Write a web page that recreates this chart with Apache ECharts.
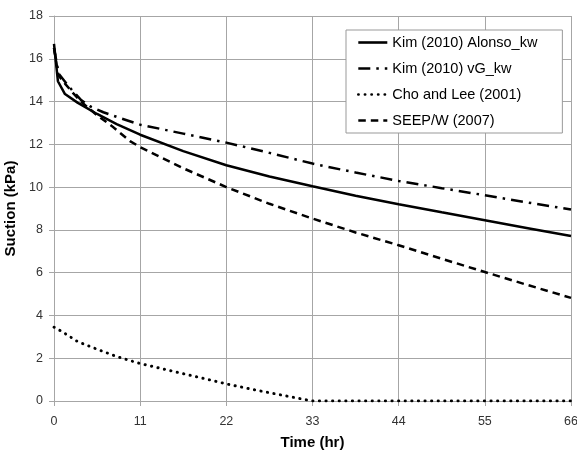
<!DOCTYPE html>
<html><head><meta charset="utf-8">
<script src="https://cdn.jsdelivr.net/npm/echarts@6/dist/echarts.min.js"></script>
<style>html,body{margin:0;padding:0;background:#fff}#c{width:577px;height:457px}</style>
</head><body><div id="c"></div>
<script>
var seriesNames = ['Kim (2010) Alonso_kw', 'Kim (2010) vG_kw', 'Cho and Lee (2001)', 'SEEP/W (2007)'];
var xTicks = [0, 11, 22, 33, 44, 55, 66];
var yTicks = [0, 2, 4, 6, 8, 10, 12, 14, 16, 18];

var alonsoT = [0, 0.5, 1.4, 3, 5.5, 8, 11, 16.5, 22, 27.5, 33, 38.5, 44, 49.5, 55, 60.5, 66];
var alonsoS = [16.7, 14.95, 14.35, 13.95, 13.42, 12.95, 12.45, 11.68, 11.02, 10.5, 10.04, 9.6, 9.2, 8.82, 8.45, 8.08, 7.71];

var vgT = [0, 0.6, 1.6, 2.5, 3.5, 4.6, 6.3, 8.5, 11, 16.5, 22, 27.5, 33, 38.5, 44, 49.5, 55, 60.5, 66];
var vgS = [16.5, 15.3, 14.84, 14.45, 14.06, 13.78, 13.5, 13.22, 12.92, 12.5, 12.08, 11.6, 11.1, 10.68, 10.29, 9.95, 9.62, 9.28, 8.95];

var choT = [0, 1, 3, 5.5, 8, 11, 14.5, 18, 22, 25.5, 29, 31, 33, 66];
var choS = [3.45, 3.25, 2.78, 2.42, 2.08, 1.75, 1.45, 1.15, 0.8, 0.53, 0.28, 0.14, 0, 0];

var seepT = [0, 0.55, 1.4, 2.5, 3.5, 5.5, 7.4, 9.7, 11, 16.5, 22, 27.5, 33, 38.5, 44, 49.5, 55, 60.5, 66];
var seepS = [16.5, 15.23, 14.84, 14.37, 13.98, 13.36, 12.85, 12.15, 11.87, 10.88, 10.0, 9.22, 8.53, 7.88, 7.28, 6.65, 6.03, 5.42, 4.82];

function pairs(t, s) { return t.map(function (v, i) { return [v, s[i]]; }); }

var FONT = 'Liberation Sans';
var chart = echarts.init(document.getElementById('c'), null, { renderer: 'canvas' });
function mk(name, data, lineStyle) {
  return {
    name: name, type: 'line', data: data, showSymbol: false, symbol: 'none',
    smooth: false, animation: false, lineStyle: lineStyle,
    itemStyle: { color: 'rgba(0,0,0,0)' },
    emphasis: { disabled: true }
  };
}
chart.setOption({
  animation: false,
  textStyle: { fontFamily: FONT },
  grid: { left: 54, right: 6, top: 16, bottom: 56, containLabel: false, outerBoundsMode: 'none' },
  legend: {
    orient: 'vertical', left: 346, top: 30,
    backgroundColor: '#fff', borderColor: '#999', borderWidth: 1, borderRadius: 0,
    padding: [5, 25, 5, 11], itemWidth: 29, itemHeight: 14, itemGap: 11,
    itemStyle: { opacity: 0 },
    lineStyle: { width: 2.6 },
    textStyle: { fontFamily: FONT, fontSize: 14.5, color: '#000' },
    data: seriesNames
  },
  xAxis: {
    type: 'value', min: xTicks[0], max: xTicks[xTicks.length - 1], interval: 11,
    name: 'Time (hr)', nameLocation: 'middle', nameGap: 34,
    nameTextStyle: { fontFamily: FONT, fontSize: 15, fontWeight: 'bold', color: '#000' },
    axisLine: { lineStyle: { color: '#a6a6a6', width: 1 } },
    axisTick: { show: true, length: 5, lineStyle: { color: '#a6a6a6' } },
    axisLabel: { fontSize: 12.5, color: '#333', margin: 14 },
    splitLine: { lineStyle: { color: '#a6a6a6', width: 1 } }
  },
  yAxis: {
    type: 'value', min: yTicks[0], max: yTicks[yTicks.length - 1], interval: 2,
    name: 'Suction (kPa)', nameLocation: 'middle', nameGap: 32,
    nameTextStyle: { fontFamily: FONT, fontSize: 15, fontWeight: 'bold', color: '#000' },
    axisLine: { show: true, lineStyle: { color: '#a6a6a6', width: 1 } },
    axisTick: { show: true, length: 5, lineStyle: { color: '#a6a6a6' } },
    axisLabel: { fontSize: 12.5, color: '#333', margin: 11 },
    splitLine: { lineStyle: { color: '#a6a6a6', width: 1 } }
  },
  series: [
    mk(seriesNames[0], pairs(alonsoT, alonsoS), { color: '#000', width: 2.5, type: 'solid' }),
    mk(seriesNames[1], pairs(vgT, vgS), { color: '#000', width: 2.5, type: [12, 6, 2.5, 6] }),
    mk(seriesNames[2], pairs(choT, choS), { color: '#000', width: 2.9, type: [0.3, 6.3], cap: 'round' }),
    mk(seriesNames[3], pairs(seepT, seepS), { color: '#000', width: 2.5, type: [7.5, 5] })
  ]
});
</script></body></html>
